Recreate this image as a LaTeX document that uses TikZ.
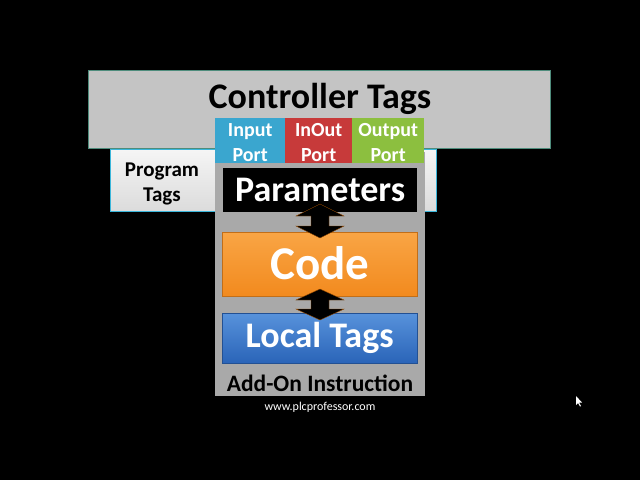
\documentclass[tikz,border=0pt]{standalone}
\usepackage{fontspec}
\setmainfont{Carlito}
\begin{document}
\begin{tikzpicture}[x=1pt,y=-1pt,
  lbl/.style={font=\bfseries, inner sep=0pt, align=center},
  port/.style={draw=none, inner sep=0pt, text=white, font=\bfseries\fontsize{20}{25}\selectfont, align=center},
  dblarrow/.style={fill=black, draw=orange!60!black, line width=0.4pt}
]
\definecolor{ctgray}{HTML}{C4C4C4}
\definecolor{ctborder}{HTML}{4E8C7C}
\definecolor{ptborder}{HTML}{3BB6DA}
\definecolor{aoigray}{HTML}{A9A9A9}
\definecolor{inblue}{HTML}{3AA6CF}
\definecolor{iored}{HTML}{C73A3A}
\definecolor{outgreen}{HTML}{8CBF3F}
\definecolor{codeor}{HTML}{F28A1E}
\definecolor{codeorlt}{HTML}{F9A545}
\definecolor{locblue}{HTML}{3A7FD5}
\definecolor{locbluedk}{HTML}{2A64B8}
\fill[black] (0,0) rectangle (640,480);
\useasboundingbox (0,0) rectangle (640,480);
% Controller tags
\node[draw=ctborder, line width=1.2pt, fill=ctgray, minimum width=462pt, minimum height=78pt, anchor=north west, inner sep=0pt] (ctrl) at (88,70) {};
\node[lbl, font=\bfseries\fontsize{36}{38}\selectfont, text=black] (ctrltxt) at (320,99) {Controller Tags};
% Program tags
\node[draw=ptborder, line width=1.2pt, top color=white!92!gray, bottom color=white!72!gray, minimum width=326pt, minimum height=62pt, anchor=north west, inner sep=0pt] (prog) at (110,149) {};
\node[lbl, font=\bfseries\fontsize{21}{24.5}\selectfont, text=black] (progtxt) at (162,184) {Program\\Tags};
% AOI box
\node[fill=aoigray, minimum width=210pt, minimum height=244pt, anchor=north west, inner sep=0pt] (aoi) at (215,152) {};
% Ports
\node[port, fill=inblue, minimum width=70pt, minimum height=45pt, anchor=north west] (inp) at (215,118) {};
\node[port, fill=iored, minimum width=67pt, minimum height=45pt, anchor=north west] (io) at (285,118) {};
\node[port, fill=outgreen, minimum width=72pt, minimum height=45pt, anchor=north west] (outp) at (352,118) {};
\node[port] (inptxt) at ([yshift=-2pt]inp.center) {Input\\Port};
\node[port] (iotxt) at ([yshift=-2pt]io.center) {InOut\\Port};
\node[port] (outptxt) at ([yshift=-2pt]outp.center) {Output\\Port};
% Parameters
\node[fill=black, minimum width=194pt, minimum height=44pt, anchor=north west, inner sep=0pt] (param) at (223,168) {};
\node[lbl, text=white, font=\bfseries\fontsize{36}{38}\selectfont] (paramtxt) at ([yshift=0pt]param.center) {Parameters};
% Code
\node[top color=codeorlt, bottom color=codeor, draw=codeor!80!black, minimum width=195pt, minimum height=64pt, anchor=north west, inner sep=0pt] (code) at (222,232) {};
\node[lbl, text=white, font=\bfseries\fontsize{47}{49}\selectfont] (codetxt) at ([yshift=1pt]code.center) {Code};
% Local tags
\node[top color=locblue!85!white, bottom color=locbluedk, draw=locbluedk!80!black, minimum width=195pt, minimum height=50pt, anchor=north west, inner sep=0pt] (loc) at (222,313) {};
\node[lbl, text=white, font=\bfseries\fontsize{36}{38}\selectfont] (loctxt) at ([yshift=0pt]loc.center) {Local Tags};
% Arrows
\coordinate (a1t) at (320,204);
\coordinate (a1b) at (320,238);
\coordinate (a2t) at (320,289);
\coordinate (a2b) at (320,320);
\draw[dblarrow] (a1t) -- ++(24,12) -- ++(-15,0) -- ++(0,10) -- ++(15,0) -- (a1b) -- ++(-24,-12) -- ++(15,0) -- ++(0,-10) -- ++(-15,0) -- cycle;
\draw[dblarrow] (a2t) -- ++(24,11) -- ++(-15,0) -- ++(0,9) -- ++(15,0) -- (a2b) -- ++(-24,-11) -- ++(15,0) -- ++(0,-9) -- ++(-15,0) -- cycle;
% AOI label
\node[lbl, text=black, font=\bfseries\fontsize{23.5}{24}\selectfont] (aoitxt) at (320,383) {Add-On Instruction};
% website
\node[inner sep=0pt, text=white, font=\fontsize{12}{13}\selectfont] (web) at (320,407) {www.plcprofessor.com};
% cursor
\coordinate (cur) at (576,396);
\fill[white] (cur) -- ++(0,9) -- ++(2,-2) -- ++(2,3.5) -- ++(1,-0.5) -- ++(-2,-3.5) -- ++(3,0) -- cycle;
\end{tikzpicture}
\end{document}
